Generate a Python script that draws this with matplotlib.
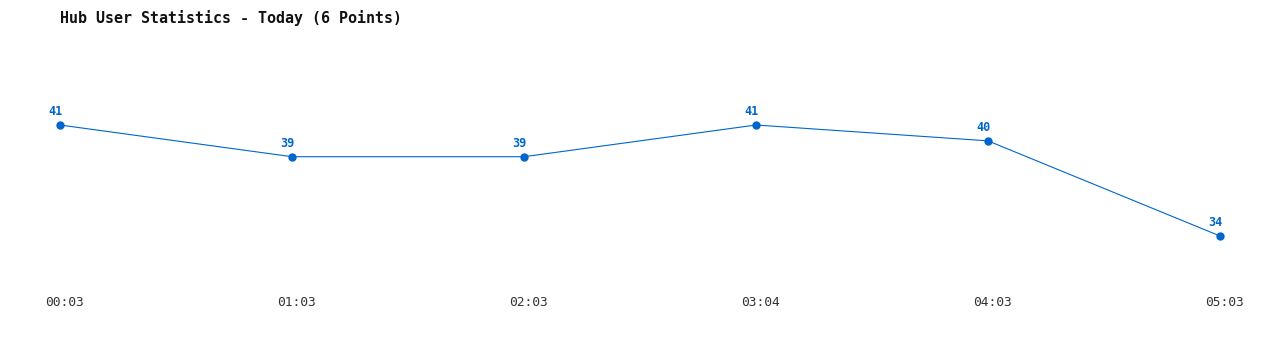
import matplotlib.pyplot as plt
import matplotlib.transforms as mtransforms

# Data
times = ['00:03', '01:03', '02:03', '03:04', '04:03', '05:03']
users = [41, 39, 39, 41, 40, 34]

color = '#0066cc'

fig = plt.figure(figsize=(12.8, 3.5), dpi=100)
# axes placed so that first/last points and min/max values land where the reference has them
ax = fig.add_axes([60 / 1280, (350 - 236) / 350, 1160 / 1280, 111 / 350])
x = list(range(len(times)))
ax.plot(x, users, color=color, linewidth=0.8, marker='o', markersize=5, clip_on=False)
ax.set_xlim(0, len(times) - 1)
ax.set_ylim(min(users), max(users))

for xi, v in zip(x, users):
    ax.annotate(str(v), (xi, v), xytext=(-3, 5), textcoords='offset points',
                ha='center', va='bottom', color=color, fontsize=8.5,
                fontweight='bold', family='DejaVu Sans Mono')

# time labels below the plot
trans = mtransforms.blended_transform_factory(ax.transData, fig.transFigure)
offset = mtransforms.ScaledTranslation(5 / 100, 0, fig.dpi_scale_trans)
for xi, t in zip(x, times):
    ax.text(xi, (350 - 303) / 350, t, transform=trans + offset, ha='center',
            va='center', fontsize=9.3, color='#333333', family='DejaVu Sans Mono')

ax.axis('off')

fig.text(60 / 1280, (350 - 18) / 350, 'Hub User Statistics - Today (6 Points)',
         ha='left', va='center', fontsize=10.8, color='#111111',
         fontweight='semibold', family='DejaVu Sans Mono')

fig.savefig('out.png', dpi=100)
